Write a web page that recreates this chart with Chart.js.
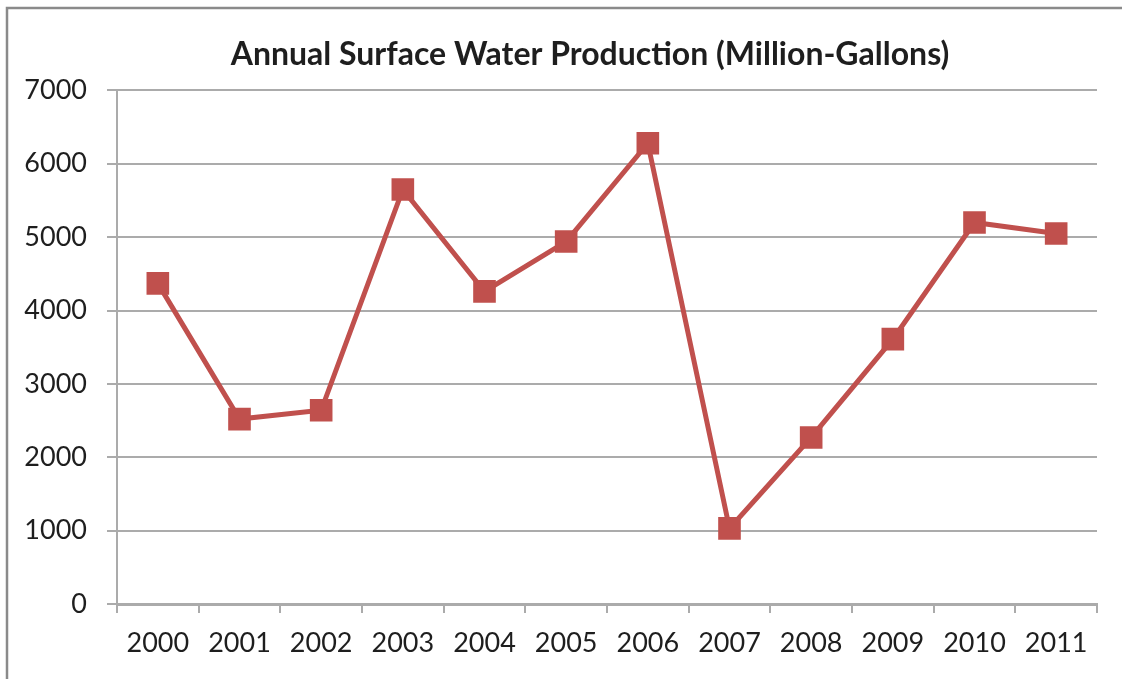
<!DOCTYPE html>
<html>
<head>
<meta charset="utf-8">
<script src="https://cdn.jsdelivr.net/npm/chart.js@4/dist/chart.umd.min.js"></script>
<style>
  html, body { margin: 0; padding: 0; background: #fff; }
  #wrap { width: 1122px; height: 679px; position: relative; }
</style>
</head>
<body>
<div id="wrap"><canvas id="waterChart" width="1122" height="679"></canvas></div>
<script>
// Annual surface water production, million gallons
const years = ["2000", "2001", "2002", "2003", "2004", "2005", "2006", "2007", "2008", "2009", "2010", "2011"];
const production = [4370, 2520, 2640, 5650, 4260, 4940, 6280, 1030, 2270, 3610, 5200, 5050];
const yTicks = [0, 1000, 2000, 3000, 4000, 5000, 6000, 7000];

const red = "#c0504d";
const gridGray = "#ababab";
const textColor = "#1e1e1e";

// thin frame around the chart, cropped at right/bottom
const framePlugin = {
    id: "frame",
    beforeDraw(chart) {
        const ctx = chart.ctx;
        ctx.save();
        ctx.strokeStyle = "#8a8a8a";
        ctx.lineWidth = 2.5;
        ctx.beginPath();
        ctx.moveTo(7, chart.height + 5);
        ctx.lineTo(7, 8);
        ctx.lineTo(chart.width + 5, 8);
        ctx.stroke();
        ctx.restore();
    },
    // nudge the title box so its text sits a little right of the canvas middle
    afterLayout(chart) {
        if (chart.titleBlock) {
            chart.titleBlock.left = 83;
        }
    },
};

const ctx = document.getElementById("waterChart").getContext("2d");
new Chart(ctx, {
    type: "line",
    data: {
        labels: years,
        datasets: [
            {
                label: "Production",
                data: production,
                borderColor: red,
                backgroundColor: red,
                borderWidth: 5,
                tension: 0,
                pointStyle: "rect",
                pointRadius: 16,
                pointHoverRadius: 16,
                pointBorderWidth: 0,
            },
        ],
    },
    options: {
        responsive: false,
        animation: false,
        layout: {
            padding: { left: 20, right: 25, top: 0, bottom: 0 },
        },
        plugins: {
            legend: { display: false },
            tooltip: { enabled: false },
            title: {
                display: true,
                text: "Annual Surface Water Production (Million-Gallons)",
                color: textColor,
                font: { family: "Lato", size: 32, weight: "bold" },
                padding: { top: 35, bottom: 17 },
            },
        },
        scales: {
            x: {
                offset: true,
                grid: {
                    offset: true,
                    drawOnChartArea: false,
                    drawTicks: true,
                    tickLength: 9,
                    color: gridGray,
                    lineWidth: 2,
                },
                border: { color: gridGray, width: 3 },
                ticks: {
                    color: textColor,
                    font: { family: "Lato", size: 27 },
                    padding: 14,
                    maxRotation: 0,
                },
                afterFit(scale) {
                    scale.height = 75;
                },
            },
            y: {
                min: 0,
                max: 7000,
                afterBuildTicks(scale) {
                    scale.ticks = yTicks.map((v) => ({ value: v }));
                },
                grid: {
                    color: gridGray,
                    lineWidth: 2,
                    tickLength: 10,
                },
                border: { color: gridGray, width: 2 },
                ticks: {
                    color: textColor,
                    font: { family: "Lato", size: 27 },
                    padding: 20,
                    callback: (value) => String(value),
                },
                afterFit(scale) {
                    scale.width = 97;
                },
            },
        },
    },
    plugins: [framePlugin],
});
</script>
</body>
</html>
